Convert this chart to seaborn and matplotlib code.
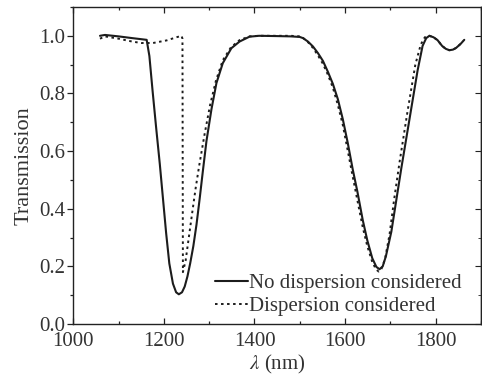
import matplotlib
matplotlib.use("Agg")
import matplotlib.pyplot as plt
import seaborn as sns
import pandas as pd
from matplotlib.ticker import MultipleLocator

# ---- data ----
wl_nodisp = [1059, 1070, 1100, 1130, 1162, 1168, 1175, 1183, 1191, 1198, 1205, 1212,
             1220, 1227, 1233, 1240, 1246, 1252, 1258, 1265, 1272, 1279, 1286, 1294, 1305,
             1316, 1330, 1349, 1367, 1389, 1410, 1450, 1480, 1500, 1507, 1518, 1529,
             1540, 1551, 1562, 1573, 1584, 1595, 1606, 1617, 1627, 1639, 1649, 1660,
             1669, 1676, 1683, 1690, 1702, 1713, 1724, 1742, 1760, 1771, 1779, 1786,
             1795, 1804, 1814, 1822, 1830, 1838, 1845, 1855, 1863]
T_nodisp = [1.0, 1.003, 0.998, 0.992, 0.986, 0.93, 0.81, 0.68, 0.555, 0.435, 0.315, 0.21,
            0.14, 0.11, 0.103, 0.11, 0.13, 0.165, 0.21, 0.27, 0.345, 0.435, 0.53, 0.635, 0.745,
            0.836, 0.905, 0.957, 0.98, 0.997, 1.0, 0.999, 0.998, 0.996, 0.992, 0.98, 0.963,
            0.94, 0.913, 0.875, 0.833, 0.78, 0.71, 0.627, 0.535, 0.46, 0.36, 0.29, 0.228,
            0.198, 0.19, 0.2, 0.235, 0.32, 0.43, 0.54, 0.71, 0.88, 0.965, 0.992, 1.0,
            0.995, 0.985, 0.965, 0.955, 0.95, 0.952, 0.958, 0.972, 0.986]

wl_disp = [1059, 1070, 1100, 1130, 1150, 1176, 1206, 1228, 1239, 1241, 1242, 1248,
           1255, 1262, 1270, 1278, 1290, 1302, 1315, 1330, 1348, 1367, 1389, 1410,
           1450, 1480, 1500, 1507, 1518, 1529, 1540, 1551, 1562, 1573, 1584, 1595,
           1606, 1617, 1627, 1639, 1649, 1660, 1668, 1674, 1680, 1688, 1698, 1708,
           1720, 1738, 1755, 1767, 1776, 1786, 1795, 1804, 1814, 1822, 1830, 1838,
           1845, 1855, 1860]
T_disp = [0.99, 0.998, 0.99, 0.98, 0.975, 0.975, 0.984, 0.995, 1.0, 0.99, 0.18, 0.22,
          0.3, 0.38, 0.47, 0.55, 0.66, 0.76, 0.845, 0.915, 0.96, 0.985, 0.998, 1.0,
          1.0, 1.0, 0.998, 0.993, 0.978, 0.958, 0.932, 0.903, 0.865, 0.82, 0.76, 0.69,
          0.6, 0.51, 0.43, 0.335, 0.27, 0.215, 0.19, 0.182, 0.19, 0.225, 0.31, 0.43,
          0.56, 0.74, 0.9, 0.97, 0.995, 1.0, 0.995, 0.985, 0.965, 0.955, 0.95, 0.952,
          0.958, 0.972, 0.982]

label_nodisp = "No dispersion considered"
label_disp = "Dispersion considered"

df1 = pd.DataFrame({"wl": wl_nodisp, "T": T_nodisp})
df2 = pd.DataFrame({"wl": wl_disp, "T": T_disp})

sns.set_style("ticks")
plt.rcParams["font.family"] = ["Liberation Serif", "DejaVu Serif"]
plt.rcParams["mathtext.fontset"] = "stix"

fig = plt.figure(figsize=(4.82, 3.88), dpi=100)
ax = fig.add_axes([0.152, 0.165, 0.846, 0.817])

col = "#1c1c1c"
sns.lineplot(data=df1, x="wl", y="T", ax=ax, color=col, lw=1.5,
             estimator=None, sort=False, label=label_nodisp)
sns.lineplot(data=df2, x="wl", y="T", ax=ax, color=col, lw=1.4,
             estimator=None, sort=False, label=label_disp, dashes=False)
ax.lines[1].set_dashes([1.3, 1.8])

ax.set_xlim(1000, 1900)
ax.set_ylim(0, 1.1)
ax.xaxis.set_major_locator(MultipleLocator(200))
ax.xaxis.set_minor_locator(MultipleLocator(100))
ax.yaxis.set_major_locator(MultipleLocator(0.2))
ax.yaxis.set_minor_locator(MultipleLocator(0.1))
ax.set_xticks([1000, 1200, 1400, 1600, 1800])
ax.set_yticks([0.0, 0.2, 0.4, 0.6, 0.8, 1.0])
ax.set_yticklabels(["0.0", "0.2", "0.4", "0.6", "0.8", "1.0"])

for s in ax.spines.values():
    s.set_visible(True)
    s.set_linewidth(1.0)
    s.set_color("#222222")

ax.tick_params(axis="both", which="both", color="#222222", labelcolor="#333333",
               labelsize=15, width=0.9)
ax.tick_params(axis="x", which="both", direction="in", top=True, bottom=True)
ax.tick_params(axis="x", which="major", length=4, pad=6)
ax.tick_params(axis="x", which="minor", length=2.5)
ax.tick_params(axis="y", which="both", direction="out", left=True)
ax.tick_params(axis="y", which="major", length=4, pad=2)
ax.tick_params(axis="y", which="minor", length=2.5)
ax2 = ax.secondary_yaxis("right")
ax2.yaxis.set_major_locator(MultipleLocator(0.2))
ax2.yaxis.set_minor_locator(MultipleLocator(0.1))
ax2.tick_params(axis="y", which="both", direction="in", labelright=False, color="#222222")
ax2.tick_params(axis="y", which="major", length=4)
ax2.tick_params(axis="y", which="minor", length=2.5)
ax2.spines["right"].set_linewidth(1.0)

ax.set_xlabel(r"$\lambda$ (nm)", fontsize=15, color="#333333", labelpad=1)
ax.set_ylabel("Transmission", fontsize=16, color="#333333", labelpad=4)

leg = ax.legend(loc="lower left", bbox_to_anchor=(0.338, 0.012), frameon=False,
                fontsize=15, handlelength=1.55, handletextpad=0.05,
                borderpad=0.2, labelspacing=0.15, borderaxespad=0)
for t in leg.get_texts():
    t.set_color("#333333")

fig.savefig("out.png", dpi=100)
